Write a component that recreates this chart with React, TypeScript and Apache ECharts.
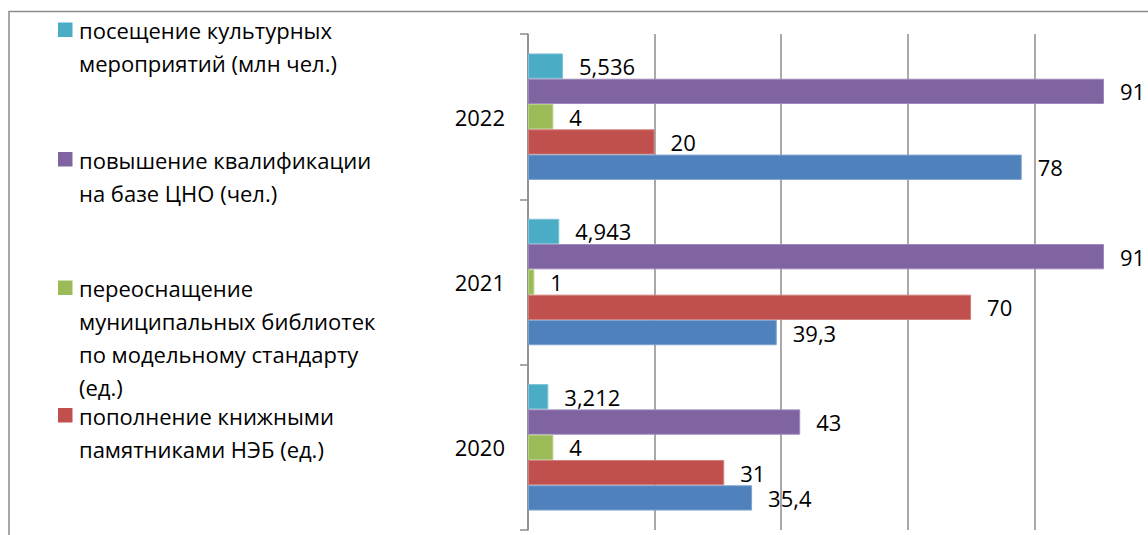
import React, { useEffect, useRef } from "react";
import * as echarts from "echarts";

const years = ["2020", "2021", "2022"];
const seriesNames = [
  "посещение культурных мероприятий (млн чел.)",
  "повышение квалификации на базе ЦНО (чел.)",
  "переоснащение муниципальных библиотек по модельному стандарту (ед.)",
  "пополнение книжными памятниками НЭБ (ед.)",
  "",
];
const legendLines = [
  ["посещение культурных", "мероприятий (млн чел.)"],
  ["повышение квалификации", "на базе ЦНО (чел.)"],
  ["переоснащение", "муниципальных библиотек", "по модельному стандарту", "(ед.)"],
  ["пополнение книжными", "памятниками НЭБ (ед.)"],
];
const legendCenters = [30, 159.5, 288, 415.5];
const culturalEvents = [3.212, 4.943, 5.536];
const qualification = [43, 91, 91];
const libraries = [4, 1, 4];
const bookMonuments = [31, 70, 20];
const fifthSeries = [35.4, 39.3, 78];
const seriesValues = [culturalEvents, qualification, libraries, bookMonuments, fifthSeries];
const colors = ["#4BACC6", "#8064A2", "#9BBB59", "#C0504D", "#4F81BD"];
const borders = ["#7cc3d6", "#9d88bb", "#b6cf85", "#d27f7c", "#7fa3cf"];

const FONT = "'Open Sans', 'Noto Sans', sans-serif";
const FS = 22;

export default function App() {
  const ref = useRef<HTMLDivElement>(null);
  useEffect(() => {
    if (!ref.current) return;
    const chart = echarts.init(ref.current, null, { renderer: "svg" });
    const graphics: any[] = [
      {
        type: "rect",
        shape: { x: 9, y: 11.5, width: 2000, height: 2000 },
        style: { fill: "none", stroke: "#8c8c8c", lineWidth: 1.5 },
        silent: true,
      },
    ];
    legendLines.forEach((lines, i) => {
      const c = legendCenters[i];
      graphics.push({
        type: "rect",
        shape: { x: 58, y: c - 7.5, width: 14.5, height: 14.5 },
        style: { fill: colors[i] },
      });
      graphics.push({
        type: "text",
        x: 79,
        y: c - 16.5,
        style: {
          text: lines.join("\n"),
          font: `${FS}px ${FONT}`,
          fill: "#000",
          lineHeight: 33,
          verticalAlign: "top",
          align: "left",
        },
      });
    });
    chart.setOption({
      animation: false,
      textStyle: { fontFamily: FONT },
      graphic: graphics,
      grid: { left: 528, top: 34, right: 39, bottom: 5, containLabel: false },
      xAxis: {
        type: "value",
        min: 0,
        max: 100,
        interval: 20,
        axisLine: { show: false },
        axisTick: { show: false },
        axisLabel: { show: false },
        splitLine: { show: true, lineStyle: { color: "#8c8c8c", width: 1.5 } },
      },
      yAxis: {
        type: "category",
        data: years,
        axisLine: { show: true, lineStyle: { color: "#8c8c8c", width: 1.5 } },
        axisTick: { show: true, length: 8, lineStyle: { color: "#8c8c8c", width: 1.5 } },
        axisLabel: { color: "#000", fontSize: FS, fontFamily: FONT, margin: 23 },
      },
      series: seriesValues.map((vals, i) => ({
        type: "bar",
        name: seriesNames[i],
        data: vals,
        barGap: "0%",
        barCategoryGap: "23.5%",
        itemStyle: { color: colors[i], borderColor: borders[i], borderWidth: 1 },
        label: {
          show: true,
          position: "right",
          distance: 16,
          color: "#000",
          fontSize: FS,
          fontFamily: FONT,
          formatter: (p: any) => String(p.value).replace(".", ","),
        },
      })),
    });
    return () => chart.dispose();
  }, []);
  return (
    <div style={{ position: "fixed", left: 0, top: 0, width: 1148, height: 535, overflow: "hidden", background: "#fff" }}>
      <div ref={ref} style={{ width: 1200, height: 535 }} />
    </div>
  );
}
